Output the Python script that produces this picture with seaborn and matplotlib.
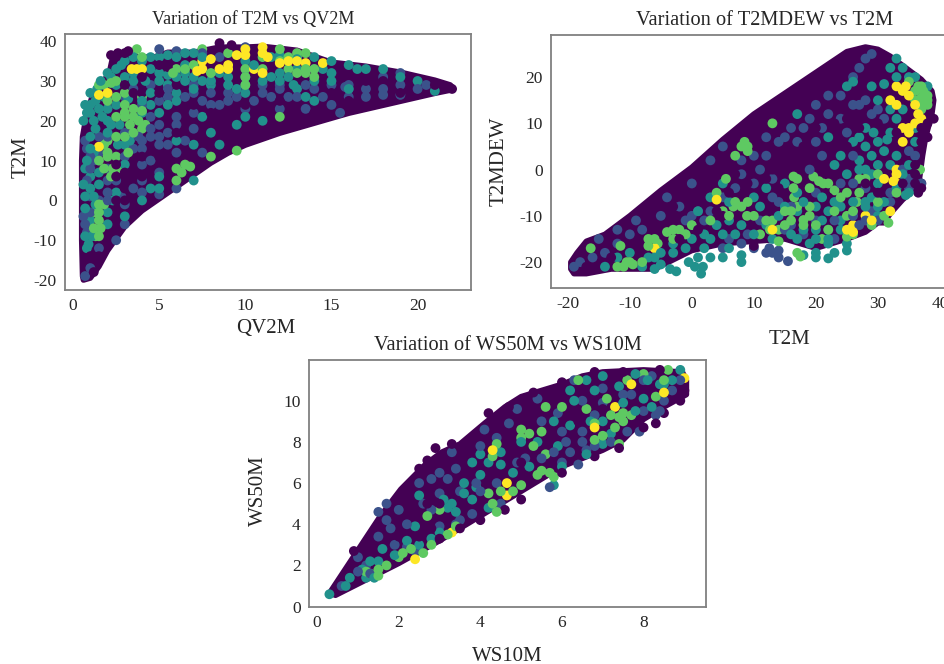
import pandas as pd
import matplotlib
matplotlib.use('Agg')
import matplotlib.pyplot as plt
import seaborn as sns

# shape of the dense cloud
a_outline = [(0.55,-19),(0.5,-10),(0.5,0),(0.5,10),(0.55,16),(0.8,22),(1.1,26),(1.6,29),(2.1,32),(2.3,36),(3,36.5),(4,36),(4.7,36),(5.5,37.2),(7,37.2),(8.5,38.5),(10,38.5),(11,38.7),(12,38.2),(13,37.7),(14,36.2),(15,34.7),(17,33.7),(19,32.2),(21,30.2),(21.9,29),(22.1,28),(21.9,27.7),(21,26.9),(20,25.9),(18,23.9),(16,21.9),(14,19.4),(12,16.9),(10,13.9),(9,11.9),(8,9.4),(7,6.4),(6,3.4),(5,0.4),(4,-2.6),(3,-6.6),(2,-12.6),(1.5,-16.6),(1,-19.5),(0.6,-20)]
a_indigo = [(0.7,15),(0.8,13),(1,8),(1.2,10),(0.8,5),(1,1),(1.5,0),(1,-3),(0.7,-6),(1.3,-8),(2,2),(2.5,5),(3,-1),(2,16),(3,11),(4,13),(4.5,10),(5,14),(4,9),(5.5,17),(5,19),(4.5,21),(6,21),(6.5,26),(7,27),(7.5,25),(8,27),(8.5,24),(9,27),(9.5,26),(10.5,25),(11,27),(11.5,26),(12,28),(12.5,26),(13.5,29),(14,28),(14.5,26),(15,24),(15.5,22),(16,29),(16,28),(15.8,28.5),(17,28),(18,28),(19,29),(20,28),(20.5,29),(18,31),(19,32),(14,33),(12,23),(13.5,23),(7.5,12),(7,18),(6,12),(5,7),(6,3),(4,2),(3,-6),(2.5,-10),(1.5,-12),(1,-17),(0.7,-19),(5,38),(6,37.5),(10,38.5),(7.5,37),(8.5,36),
            (3.5,13),(3.8,16),(4.5,16),(5,16),(5.5,14),(6.5,15),(6,19),(4,15),(4.5,18),(3,17),(7,22),(8,24),(9,25),(10,23),(11,29),(10,29),(12,29),(13,26),(15,29),(16,26),(17,26),(18,26.5),(19,26.5),(3,26),(3.5,28),(4.5,29),(5.5,28),(7,29),(8,30),(5,25),(5.5,26),(4,24),(1.5,16),(1.5,12),(1,11),(2,8),(2,5),(2,0),(3.5,3),(2.8,1),(0.6,-4),(0.8,-8),(4,5),(5,1.5)]
a_teal = [(1,22),(1,24),(1.2,20),(1.3,25),(0.8,22),(1.5,23),(1.8,26),(2,32),(2.5,33),(3,31),(2.5,29),(3.5,30),(3,35),(4,35),(4.5,33),(5,32),(5,36),(6,36),(6,31),(5.5,29),(6.5,34),(7,37),(7,31),(7.5,30),(8,30),(8.5,32),(9,31),(9.5,28),(10,35),(10.5,34),(11,30),(11.5,36),(12,32),(12.5,31),(13,33),(14,36),(15,35),(16,34),(13.5,26),(14,25),(13,28),(2,17),(2,20),(2.5,24),(3,14),(4,25),(4.5,24),(5,22),(5.5,24),(6,25),(1,3),(1.2,1),(1.5,4),(1.3,-1),(0.7,-2),(1,6),(1.5,7),(3,9),(4.5,3),(5,6),(7,5),(7.5,21),(8,17),(8.5,14),(9.5,19),(10,21),(11,20),(2,-3),(3,-4),(4,0),(2.5,2),(16,28),(21,27.5),(20,30),(18,33),(19,31),(7,14),(6,15),(5,3),
          (0.6,20),(0.7,24),(1,27),(1.4,28),(1.6,30),(2.2,31),(2.8,34),(3.5,36),(4.5,36),(5.5,36.5),(6.5,37),(7.5,36),(3.5,32),(4.2,30),(5,30),(5.5,31.5),(6.5,32),(7,28),(6,27),(4.5,27),(3.2,25.5),(2,23),(2.2,19),(1.3,18),(1.7,21),(1,16),(1,13),(1.2,12),(2.7,19),(2.6,14),(3.3,15),(4,22),(6.5,30),(8,29),(9,29),(10,31),(11.5,31),(12,30),(12.8,29),(14,30),(15,32),(16.5,33),(17,33),(12,36.5),(13,35.5),(14.5,33),(15,30),(10,27),(1,-5),(1.1,-9),(0.9,-11),(0.8,-12),(0.7,-9),(2,-6),(2.3,0),(0.7,1),(0.6,4),(0.7,8),(0.8,10)]
a_green = [(1.5,10),(2,11),(2.3,8),(2,12),(1.8,14),(2.5,21),(3,21),(3.3,19),(3.5,17),(3.8,20),(4,18),(3.5,23),(3,24),(6.5,9),(6.3,7),(6,8),(6.8,8.5),(6,5),(1.5,-1),(1.3,-3),(1.5,-5),(1.2,-7),(1.8,-1),(1.5,-3),(5.8,32),(6,33),(8,32),(9,37),(10,33),(11,33),(12,38),(13,37),(12.5,36),(13.5,37),(13.5,32),(14,31),(13,32),(9.5,12.5),(10,29),(8,11),(3.7,38),(4,36),(2.5,30),(1.5,29),(3,27),(2.5,16),(2.8,8),(12,21),
           (2.2,6),(2.5,11),(3.2,12),(1.8,8),(2,15),(3,16),(3,22),(4.2,19),(3.5,21),(4,22.5),(4,26),(2.5,26),(2,25),(1.8,29),(2.2,29.5),(1.5,-9),(1.3,-9),(1.6,-7),(6.5,33),(7.5,38),(11,36),(12,35),(13,36),(13.5,33),(14,33),(12.5,33),(10,31),(7,34)]
a_yellow = [(3.7,33),(4,33),(3.4,33),(1.5,13.5),(1.5,26.5),(2,27),(7.5,33),(7.2,32.5),(8,35.5),(9,34),(9,33),(10,36.5),(10.5,33),(11,37),(11.3,36),(11,38.5),(12.5,35),(13,35),(13.5,34.5),(11,32),(8.5,33),(7.5,35),(9.5,36.5),(10,38),(14.5,34.5),(12,34.5)]
a_purple = [(2.2,36.5),(2.6,37),(3,37),(3.2,37.5),(8.5,39.5),(9.2,39),(5,34),(5.5,33.5),(4,31),(3,29),(4,27),(3.5,27),(5,27),(6,29),(2.5,9),(3,7),(3.5,6),(4,6),(2.5,6),(3,3),(2.5,0),(3,0),(4,11),(5,11),(6,17),(6.5,22),(7,24),(8,22),(9,22),(10,24),(9,16),(11,23),(12,25),(14,22),(15,27),(16,25),(17,30),(18,30),(19,27),(21,29),(22,28),(1,-14),(1.5,-14),(0.8,-16),(1.2,-18)]

b_outline = [(-19.5,-20),(-18.5,-18),(-17,-15.5),(-14,-14),(-10,-10),(-5,-4.5),(0,0.5),(5,6.5),(10,12),(15,16.5),(20,21),(25,25.5),(28,26.5),(30,26),(32,24.5),(35,21.5),(37,19.5),(38.7,17),(39,15),(38.7,12),(37.7,7),(37.2,3),(36.7,-2),(35.7,-4.5),(34,-6.5),(33,-8),(32,-9.5),(31,-11.5),(30,-11.5),(28,-13.5),(26,-14.5),(25,-15),(20,-17),(15,-15),(10,-15.5),(5,-16),(0,-17.5),(-3,-19.5),(-6,-21.5),(-10,-21.5),(-13,-21.5),(-17,-22.5),(-19,-22.5),(-19.5,-21.5)]
b_indigo = [(28,24),(27,22),(29,25),(26,20),(22,16),(24,16),(26,14),(28,15),(30,13),(19,11),(17,6),(15,7),(21,3),(19,0),(30,-11),(28,-4),(26,3),(10,3),(8,2),(5,5),(3,2),(0,-3),(-2,-8),(-4,-6),(1,-9),(-9,-11),(-12,-13),(-15,-15),(-14,-18),(-18,-20),(0,-10),(3,-9),(12,-18),(14,-17.5),(8,-16),(6,-15),(10,-17),(5,-17),(34,0),(35,-4),(32,-5),(37,-3),(13,-2),(14,-7),(16,-12),(18,-14),(23,-11),(26,-10),(29,-9),(36,3),(35,4),(13,-18),(14,-19),(15.5,-19.8),(12.5,-17),
            (8,-1),(7,-4),(10,-3),(11,0),(12,3),(12,7),(14,6),(16,9),(18,9),(20,6),(21,9),(24,11),(22,12),(20,14),(25,8),(27,14),(29,12),(31,11),(26,-3),(24,-3),(20,-5),(16,-8),(13,-6),(11,-11),(9,-14),(5,-6),(2,-11),(-1,-11),(-5,-10),(-8,-13),(-10,-14),(-12,-16),(-16,-19),(-19,-21),(15,-13),(20,-11),(22,-13),(27,-12),(23,-15),(28,-11),(32,-7),(35,-2)]
b_teal = [(-6,-21.5),(-5,-20.5),(-3.5,-21.5),(-2.5,-22),(-0.5,-20),(0.5,-21),(1.5,-22.5),(1.8,-21),(3,-19),(5,-19),(6,-17),(8,-18.5),(8,-20),(18,-18.5),(20,-19),(22,-19.2),(25,-17.5),(23,-18),(17,12),(25,18),(26,19),(31,18.5),(29,18),(29.3,8),(31.5,6.5),(31,4),(28,5),(29,3),(33,3),(32,1),(30,-3),(27,0),(25,-1),(24,3),(22,7),(23,1),(35,-5),(34.5,-5.5),(30,-8),(28,-7),(24,-8),(22,-9),(21,-11),(20,-13),(17,-9),(14,-10),(15,-8),(11,-8),(12,-4),(10,-6),(6,-11),(4,-12),(2,-14),(0,-15),(2,-17),(5,-14),(-1,-17),(-3,-18),(-7,-19),(-8,-21),(-12,-19),(-14,-21),(3,-6),(19,-16),(22,-16),(25,-16),(17,-15),(20,-18),(34,22),(33,24),(35,20),(32,22),(36,6),(10,-14),
          (15,-3),(17,-5),(18,-7),(20,-8),(21,-6),(23,-7),(24,-11),(26,-7),(28,-8),(29,-6),(31,-7),(33,-4),(27,2),(28,0),(29,-1),(30,1),(26,6),(27,7),(28,9),(30,6),(32,8),(33,11),(34,13),(30,15),(32,13),(22,-15),(20,-15),(18,-13),(16,-14),(13,-15),(12,-12),(8,-12),(7,-14),(3,-15),(1,-19),(-1,-14),(-3,-16),(-5,-18),(-6,-19),(-10,-18),(1,-9),(6,-7),(5,-3),(35,1),(34,-1),(30,-10),(24,-13),(36,9),(38,18),(36,20),(33,20)]
b_green = [(13,10),(8.5,6),(9,5),(8,5),(9,4),(7,3),(5.5,-2),(4,-5),(7,-7),(8,-8),(10,-10),(12,-11),(13,-11),(18,-10.9),(19,-10),(18,-12),(22,-13),(21.2,-3),(19.6,-1.5),(20.5,-2.5),(22,-3),(23,-4.5),(16.4,-1.5),(16.4,-4),(16.5,-6),(-2,-13),(-3,-13),(-4,-13.5),(-1,-14),(-6,-15),(-5.5,-16),(-7,-16.5),(-10,-20),(-10.5,-20),(-9.5,-20.5),(-12,-21),(-16.3,-17),(-11.5,-16.5),(37.3,17),(37,15.5),(38,16),(36,17),(37,14),(38,14),(36.5,18),(26.6,-7),(26,-9),(27,-5),(25,-10),(17.5,-18.8),(17,-18),(31.7,-11.5),(31,-10),(36.8,0),(6.7,-8),(8.9,-10),(12.6,-13),(11,-14),(14,-15.5),(25,-14.5),
           (14,-13),(15,-12),(16,-11),(19,-8),(20,-12),(24,-6),(25,-5),(28,-2),(30,-7),(27,-2),(23,-9),(17,-2),(17,-8),(19,-4),(29,-12),(21,-15),(15,-9),(0,-12),(-3,-15),(-7,-15),(3,-11),(5,-9),(6,-10),(9,-7),(26,-14),(33,-5),(30,-1),(37,13),(36,15),(35,19),(37,18),(38,15),(-8,-20),(-11,-21),(16,-9)]
b_yellow = [(34,17),(33,18),(34.5,18),(35,16),(32,15),(33,14),(36,14),(37,11),(36,10),(35,9),(34,9),(34,6),(33,-1),(33,-3),(32.5,-2.5),(31,-2),(33,0),(13,-13),(25,-13),(26,-12),(26,-13.5),(29,-11),(-6,-17),(4,-6.5),(32,-9),(28,-10),(35,8),(36.5,12)]
b_purple = [(36.5,-5),(37,-4),(36,-3),(37,-3),(36,-1),(38,7),(39,11),(38,10),(37,9),(36,5),(37,6),(33,8),(30,10),(27,9),(25,11),(23,10),(20,9),(18,5),(15,2),(13,0),(12,-2),(9,-3),(7,-1),(6,-5),(3,-3),(0,-6),(-3,-8),(-7,-11),(1,-13),(4,-9),(18,-3),(14,-4),(10,-16.5),(8,-14),(-2,-15),(25,5),(22,-6),(28,-3),(30,-5),(34,3),(36,1),(34,-3),(33,-7),(-17,-21),(-13,-19),(5,-10)]

c_outline = [(0.3,0.65),(0.55,1.4),(1.05,2.9),(1.55,4.4),(2.05,5.7),(2.65,6.9),(3.05,7.5),(3.5,7.9),(4.1,8.9),(4.6,9.7),(5,10.2),(5.5,10.5),(6,10.8),(6.5,11.2),(7,11.4),(8,11.5),(8.95,11.4),(9.05,11),(9.05,10.3),(8.5,9.7),(8,9.1),(7.5,8.1),(7,7.6),(6,6.8),(5,5.6),(4,4.4),(3,3.2),(2,2.1),(1,1.1),(0.45,0.55)]
c_indigo = [(2.5,6),(1.7,5),(1.5,4.6),(2,4.7),(1.8,3.8),(1.7,4.2),(2.8,6.2),(3.3,7.5),(4,7.8),(4.1,8.6),(4.7,8.9),(4.9,9.6),(5.4,10.1),(5.9,9.4),(6.1,8),(6,7),(5.5,7.2),(5.7,5.8),(6.6,7.6),(6.8,9.3),(7.5,10.3),(8.2,11.2),(8.4,9.5),(7.9,8.5),(8.5,10),(6.3,11),(3.2,6.2),(3,5.5),(3.8,4.5),(1.3,1.6),(1,2.4),(3.5,4.2),(2.2,2.9),(4.4,8.2),(5.1,7.2),(6.5,8.5),(7,10.6),(7.7,10.3),(8.9,11),
            (1.9,3),(2.2,4),(2.6,5),(3,6.5),(3.4,6.7),(3.9,6),(4.4,6),(4.9,7),(4,5.6),(3.5,5.6),(5.8,7.5),(6.2,7.5),(6.5,8),(6.8,7.8),(7.2,8),(7.6,8.5),(8,9.5),(8.3,9.3),(6,8.5),(5.5,9),(6.5,10),(7,9.9),(8,11),(1.5,3.4),(1.2,2),(1,1.7),(0.6,1),(2.4,2.7),(3,3.9),(2.8,4.7),(4.5,5),(3.4,4),(8.7,10.5),(6.4,6.9)]
c_teal = [(3.3,5),(3.1,5.2),(3.2,4.8),(3.4,4.6),(1.3,2.2),(1.1,1.8),(1.4,1.4),(0.3,0.6),(3.6,6),(3.8,7),(4,6.4),(4.5,6.9),(4.2,4.8),(3.8,5.2),(2.8,3.3),(1.6,2.8),(0.8,1.4),(5.8,5.9),(6,6.8),(6.6,7.4),(7,9),(7.8,9.5),(8,10.1),(8.4,10.8),(8.7,11),(7,11.2),(6.2,10.5),(6.8,10.5),(7.8,11.3),(4.5,7.5),(5.4,8),(8.2,9.7),(2.4,3.9),(2.2,3.2),(0.7,1),(7,7.9),(5.8,9),(2.5,5.4),
          (1.2,1.4),(1.5,2.2),(1.9,2.5),(2.5,3),(3,3.6),(3.6,5.5),(3.9,5.8),(4.8,6.5),(5.2,6.8),(5.9,7.8),(6.2,8.8),(6.7,9),(7.2,8.4),(7.5,9.9),(8.1,11),(8.9,11.5),(6.6,11),(4.2,7),(4,7.4),(5,8),(6.3,10),(7.4,10.7),(8.5,10.8)]
c_green = [(5,8.6),(5,8.2),(5.3,7.8),(5.5,8.5),(5.6,7.4),(5.5,6.6),(5.7,6.5),(5.4,6.4),(4.4,4.6),(4.3,5),(4.2,5.5),(4.8,5.6),(5,5.9),(4.4,7.9),(4.3,7.3),(7.2,9.3),(7.4,9.2),(7.5,9),(7.3,8.7),(7.7,9.3),(7,8.3),(6.8,8.1),(6.6,9.6),(6,9.7),(5.6,9.7),(8.3,10.2),(7.1,10.1),(7.6,11),(8,11.3),(6.4,11),(2.1,2.6),(2,2.4),(2.3,2.8),(2.6,2.6),(2.8,3),(1.7,2),(1.5,1.8),(1.3,1.6),(3.4,3.9),(2.7,4.4),(3,4.7),(7.4,7.9),(8.6,11.5),
           (1.2,1.7),(1.5,1.5),(3.2,3.5),(5.2,8.4),(5.8,6.3),(6.8,8.9),(7.5,9.4),(8.5,11),(4.5,5.6)]
c_yellow = [(9,11.1),(8.5,10.4),(7.7,10.8),(7.3,9.7),(6.8,8.7),(4.3,7.6),(4.65,5.4),(4.65,6),(2.4,2.3),(3.3,3.6)]
c_purple = [(9,10.5),(8.9,10),(8.5,9.4),(8,8.7),(7.4,7.7),(6.8,7.3),(6,6.5),(5,5.2),(4,4.2),(3,3.3),(2.5,3.4),(2,3.4),(2.8,3.8),(3.5,3.8),(4.6,4.7),(5,7),(4.8,7.6),(4.7,8.3),(6.4,9),(7,9.6),(6.2,9.2),(3,5),(2.7,5),(3.7,6.5),(2.9,7.7),(3.3,7.9),(4.2,9.4),(4.7,9.7),(6,10.9),(6.8,11.4),(7.5,11.4),(8.4,11.5),(8,10.4),(8.3,8.9),(3.5,7.2),(1.2,3.1),(0.9,2.7),(2.5,6.7),(2.7,7.1),(5.3,10.4)]


def make_frame(indigo, teal, green, yellow, purple):
    rows = []
    for group, level in [(indigo, 0.25), (teal, 0.5), (green, 0.75), (yellow, 1), (purple, 0)]:
        for x, y in group:
            rows.append({'x': x, 'y': y, 'level': level})
    # mix the colours a bit, every third row goes to the back
    back = rows[::3]
    front = [r for i, r in enumerate(rows) if i % 3 != 0]
    return pd.DataFrame(back + front)


def draw_panel(ax, df, outline, title, title_size, xlabel, ylabel, xticks, yticks):
    ax.fill([p[0] for p in outline], [p[1] for p in outline], facecolor='#440154', edgecolor='#440154',
            lw=4, joinstyle='round', zorder=1)
    sns.scatterplot(data=df, x='x', y='y', hue='level', palette='viridis', hue_norm=(0, 1),
                    s=50, linewidth=0, legend=False, ax=ax, zorder=2)
    ax.set_title(title, fontsize=title_size, pad=7)
    ax.set_xlabel(xlabel, fontsize=15)
    ax.set_ylabel(ylabel, fontsize=15)
    ax.set_xticks(xticks)
    ax.set_yticks(yticks)
    ax.tick_params(labelsize=12.5, length=3, width=0.8, color='#333333', pad=3)
    for spine in ax.spines.values():
        spine.set_color('#808080')
        spine.set_linewidth(1.3)


def pixel_axes(fig, left, top, right, bottom):
    return fig.add_axes([left / 945, 1 - bottom / 664, (right - left) / 945, (bottom - top) / 664])


sns.set_theme(style='white')
plt.rcParams['font.family'] = ['Liberation Serif', 'DejaVu Serif']
plt.rcParams['axes.unicode_minus'] = False

fig = plt.figure(figsize=(9.45, 6.64), dpi=100)

ax1 = pixel_axes(fig, 65, 34, 471, 290)
draw_panel(ax1, make_frame(a_indigo, a_teal, a_green, a_yellow, a_purple), a_outline,
           'Variation of T2M vs QV2M', 13.1, 'QV2M', 'T2M', [0, 5, 10, 15, 20], [-20, -10, 0, 10, 20, 30, 40])
ax1.set_xlim(-0.47, 23.1)
ax1.set_ylim(-22.5, 41.8)
ax1.title.set_x(0.463)
ax1.xaxis.labelpad = 3
ax1.yaxis.labelpad = 2
ax1.xaxis.label.set_x(0.495)
ax1.yaxis.label.set_y(0.52)

# this axes runs past the right edge of the figure
ax2 = pixel_axes(fig, 551, 35, 979, 288)
draw_panel(ax2, make_frame(b_indigo, b_teal, b_green, b_yellow, b_purple), b_outline,
           'Variation of T2MDEW vs T2M', 14.7, 'T2M', 'T2MDEW', [-20, -10, 0, 10, 20, 30, 40], [-20, -10, 0, 10, 20])
ax2.set_xlim(-22.7, 46.3)
ax2.set_ylim(-25.6, 29.1)
ax2.xaxis.labelpad = 13
ax2.yaxis.labelpad = 8
ax2.xaxis.label.set_x(0.558)

ax3 = pixel_axes(fig, 309, 360, 706, 607)
draw_panel(ax3, make_frame(c_indigo, c_teal, c_green, c_yellow, c_purple), c_outline,
           'Variation of WS50M vs WS10M', 14.7, 'WS10M', 'WS50M', [0, 2, 4, 6, 8], [0, 2, 4, 6, 8, 10])
ax3.set_xlim(-0.2, 9.53)
ax3.set_ylim(-0.02, 11.98)
ax3.xaxis.labelpad = 11
ax3.yaxis.labelpad = 11
ax3.yaxis.label.set_y(0.47)

fig.savefig('out.png', dpi=100, facecolor='white')
